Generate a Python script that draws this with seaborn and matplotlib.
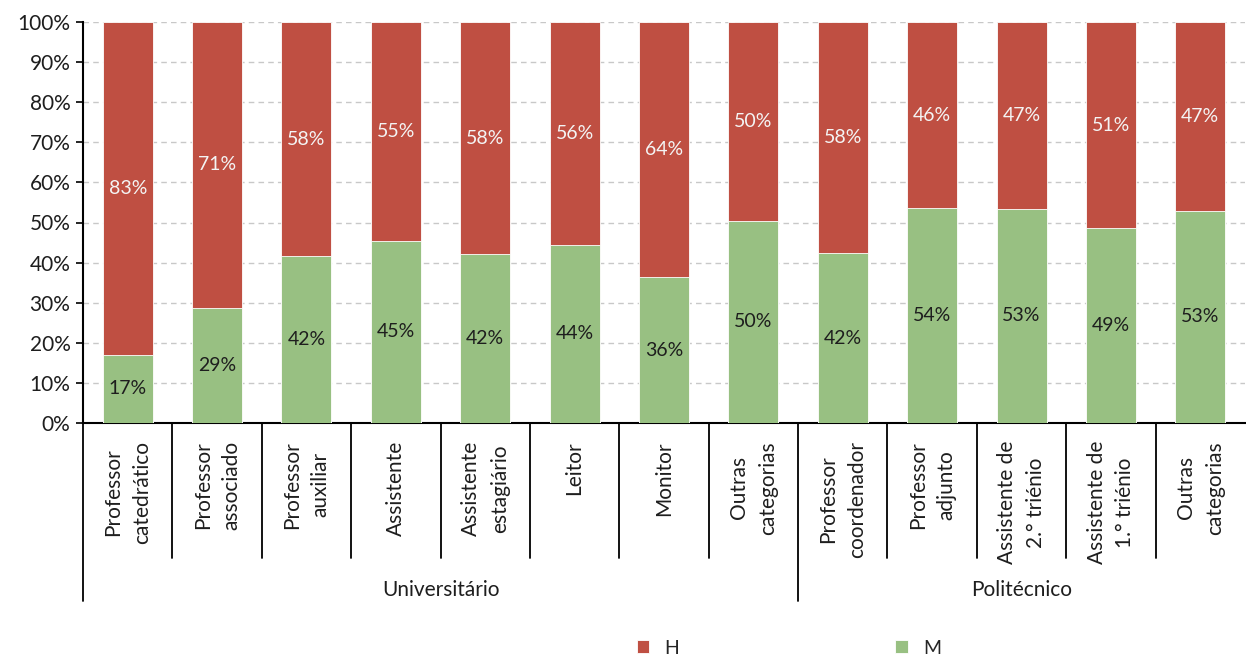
import numpy as np
import pandas as pd
import matplotlib
matplotlib.use("Agg")
import matplotlib.pyplot as plt
import seaborn as sns

categories = ["Professor\ncatedrático", "Professor\nassociado", "Professor\nauxiliar",
              "Assistente", "Assistente\nestagiário", "Leitor", "Monitor",
              "Outras\ncategorias", "Professor\ncoordenador", "Professor\nadjunto",
              "Assistente de\n2.° triénio", "Assistente de\n1.° triénio", "Outras\ncategorias"]
groups = ["Universitário"] * 8 + ["Politécnico"] * 5
m_share = [17.0, 28.8, 41.6, 45.4, 42.1, 44.4, 36.4, 50.4, 42.3, 53.6, 53.4, 48.6, 52.9]
h_share = [83.0, 71.2, 58.4, 54.6, 57.9, 55.6, 63.6, 49.6, 57.7, 46.4, 46.6, 51.4, 47.1]
yticks = list(range(0, 101, 10))

RED = "#BF4F42"
GREEN = "#98C082"
TXT = "#1e1e1e"

df = pd.DataFrame({"pos": range(len(categories)), "M": m_share, "H": h_share})
df["total"] = df["M"] + df["H"]

sns.set_theme(style="white")
plt.rcParams["font.family"] = ["Lato", "DejaVu Sans"]

fig = plt.figure(figsize=(12.46, 6.57), dpi=100)
ax = fig.add_axes([83 / 1246, 1 - 423 / 657, 1162 / 1246, 401 / 657])

sns.barplot(data=df, x="pos", y="total", color=RED, saturation=1, width=0.56,
            edgecolor="white", linewidth=0.6, ax=ax, label="H", zorder=3)
sns.barplot(data=df, x="pos", y="M", color=GREEN, saturation=1, width=0.56,
            edgecolor="white", linewidth=0.6, ax=ax, label="M", zorder=3)
handles, labels = ax.get_legend_handles_labels()
if ax.get_legend() is not None:
    ax.get_legend().remove()

for i, (m, h) in enumerate(zip(m_share, h_share)):
    ax.text(i, m / 2, f"{round(m)}%", ha="center", va="center", fontsize=14,
            color=TXT, zorder=4)
    ax.text(i, m + h / 2, f"{round(h)}%", ha="center", va="center", fontsize=14,
            color="#f4f4f4", zorder=4)

ax.set_xlim(-0.5, len(categories) - 0.5)
ax.set_ylim(0, 100)
ax.set_yticks(yticks)
ax.set_yticklabels([f"{t}%" for t in yticks], fontsize=15, color=TXT)
ax.yaxis.grid(True, linestyle=(0, (4, 3)), color="#c8c8c8", linewidth=1, zorder=0)
ax.set_axisbelow(True)
ax.tick_params(axis="y", length=5, width=1.2, color="black", direction="out", pad=4, left=True)
ax.set_xticks(range(len(categories)))
ax.set_xticklabels(categories, rotation=90, fontsize=15, color=TXT,
                   ha="center", va="top", multialignment="center")
for lbl in ax.get_xticklabels():
    lbl.set_linespacing(1.55)
ax.tick_params(axis="x", length=0, pad=13)
ax.set_xlabel("")
ax.set_ylabel("")
for s in ["top", "right"]:
    ax.spines[s].set_visible(False)
for s in ["left", "bottom"]:
    ax.spines[s].set_color("black")
    ax.spines[s].set_linewidth(1.5)

trans = ax.get_xaxis_transform()
bounds = []
for i in range(1, len(groups)):
    if groups[i] != groups[i - 1]:
        bounds.append(i)
for i in range(1, len(categories)):
    if i in bounds:
        continue
    ax.plot([i - 0.5, i - 0.5], [0, -0.337], transform=trans, color="black",
            lw=1.3, clip_on=False)
starts = [0] + bounds
ends = bounds + [len(groups)]
for s, e in zip(starts, ends):
    ax.plot([s - 0.5, s - 0.5], [0, -0.445], transform=trans, color="black",
            lw=1.3, clip_on=False)
    ax.text((s + e - 1) / 2, -0.416, groups[s], transform=trans, ha="center",
            va="center", fontsize=15, color=TXT)

fig.legend(handles, labels, loc="center", bbox_to_anchor=(789 / 1246, 1 - 648 / 657),
           ncol=2, frameon=False, prop={"size": 14},
           handlelength=0.65, handleheight=0.65,
           columnspacing=11.1, handletextpad=0.8)

fig.savefig("out.png", dpi=100)
